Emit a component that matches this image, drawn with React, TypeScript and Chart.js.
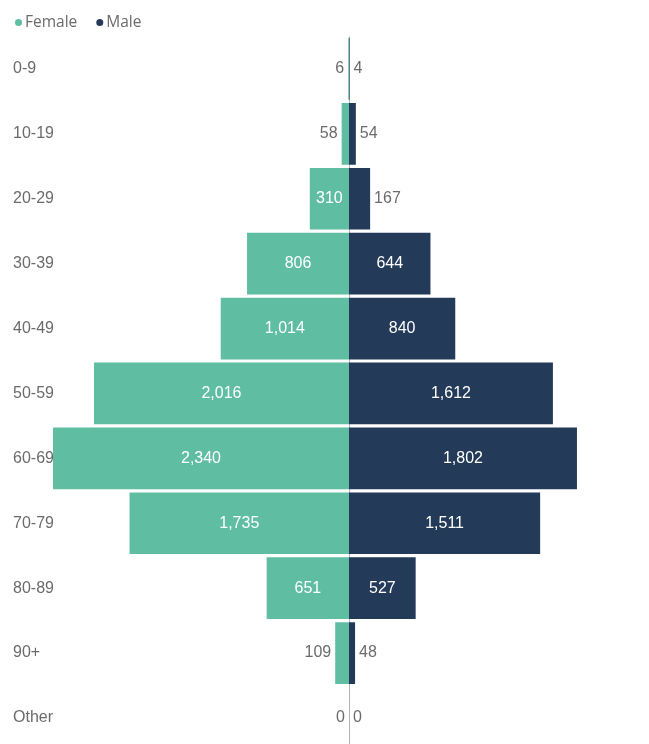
import React, { useEffect, useRef } from "react";
import { Chart, registerables } from "chart.js";

Chart.register(...registerables);

const categories = ["0-9", "10-19", "20-29", "30-39", "40-49", "50-59", "60-69", "70-79", "80-89", "90+", "Other"];
const femaleValues = [6, 58, 310, 806, 1014, 2016, 2340, 1735, 651, 109, 0];
const maleValues = [4, 54, 167, 644, 840, 1612, 1802, 1511, 527, 48, 0];
const seriesNames = ["Female", "Male"];
const titleText = "Patient Count by Age Group and Gender";

const FEMALE_COLOR = "#5fbea2";
const MALE_COLOR = "#243a59";
const TEXT_GRAY = "#6b6b6b";
const LABEL_FONT = "16px 'Liberation Sans', Arial, sans-serif";
const LEGEND_FONT = "15.5px 'Open Sans', 'Noto Sans', sans-serif";

const fmt = (v: number) => Math.abs(v).toLocaleString("en-US");

const zeroLinePlugin = {
  id: "zeroLine",
  beforeDatasetsDraw(chart: any) {
    const { ctx, chartArea, scales } = chart;
    const x = Math.round(scales.x.getPixelForValue(0)) + 0.5;
    ctx.save();
    ctx.strokeStyle = "#b4b4b4";
    ctx.lineWidth = 1;
    ctx.beginPath();
    ctx.moveTo(x, chartArea.top);
    ctx.lineTo(x, chartArea.bottom);
    ctx.stroke();
    ctx.restore();
  },
};

const dataLabelPlugin = {
  id: "dataLabels",
  afterDatasetsDraw(chart: any) {
    const { ctx } = chart;
    ctx.save();
    ctx.font = LABEL_FONT;
    ctx.textBaseline = "middle";
    chart.data.datasets.forEach((ds: any, di: number) => {
      const meta = chart.getDatasetMeta(di);
      meta.data.forEach((el: any, i: number) => {
        const v = ds.data[i];
        const { x, y, base } = el.getProps(["x", "y", "base"], true);
        const text = fmt(v);
        const tw = ctx.measureText(text).width;
        const left = Math.min(x, base);
        const right = Math.max(x, base);
        const w = right - left;
        if (w >= tw + 8) {
          ctx.fillStyle = "#ffffff";
          ctx.textAlign = "center";
          ctx.fillText(text, (left + right) / 2, y);
        } else {
          ctx.fillStyle = TEXT_GRAY;
          if (di === 0) {
            ctx.textAlign = "right";
            ctx.fillText(text, left - 4, y);
          } else {
            ctx.textAlign = "left";
            ctx.fillText(text, right + 4, y);
          }
        }
      });
    });
    ctx.restore();
  },
};

const headerPlugin = {
  id: "header",
  afterDraw(chart: any) {
    const { ctx } = chart;
    ctx.save();
    // title (cut off at the top, as in the reference)
    ctx.font = "18px 'Open Sans', 'Noto Sans', sans-serif";
    ctx.fillStyle = "#555555";
    ctx.textAlign = "left";
    ctx.textBaseline = "alphabetic";
    ctx.fillText(titleText, 13, 2);
    // legend
    ctx.font = LEGEND_FONT;
    ctx.textBaseline = "middle";
    let x = 15;
    const y = 22.5;
    chart.data.datasets.forEach((ds: any) => {
      ctx.fillStyle = ds.backgroundColor;
      ctx.beginPath();
      ctx.arc(x + 3.5, y, 3.5, 0, Math.PI * 2);
      ctx.fill();
      ctx.fillStyle = TEXT_GRAY;
      ctx.fillText(ds.label, x + 10, y);
      x += 10 + ctx.measureText(ds.label).width + 19;
    });
    ctx.restore();
  },
};

export default function App() {
  const ref = useRef<HTMLCanvasElement | null>(null);
  useEffect(() => {
    if (!ref.current) return;
    const maxVal = Math.max(...femaleValues, ...maleValues);
    const chart = new Chart(ref.current, {
      type: "bar",
      data: {
        labels: categories,
        datasets: [
          {
            label: seriesNames[0],
            data: femaleValues.map((v) => -v),
            backgroundColor: FEMALE_COLOR,
            categoryPercentage: 0.95,
            barPercentage: 1,
          },
          {
            label: seriesNames[1],
            data: maleValues,
            backgroundColor: MALE_COLOR,
            categoryPercentage: 0.95,
            barPercentage: 1,
          },
        ],
      },
      options: {
        indexAxis: "y",
        responsive: true,
        maintainAspectRatio: false,
        animation: false,
        layout: { padding: { left: 13, right: 4, top: 36.5, bottom: 8.5 } },
        plugins: {
          legend: { display: false },
          title: { display: false },
          tooltip: { enabled: false },
        },
        scales: {
          x: {
            stacked: true,
            display: false,
            min: -maxVal,
            max: maxVal,
          },
          y: {
            stacked: true,
            grid: { display: false },
            border: { display: false },
            ticks: {
              color: TEXT_GRAY,
              font: { family: "'Liberation Sans', Arial, sans-serif", size: 16 },
              crossAlign: "far",
              padding: 0,
            },
            afterFit(scale: any) {
              scale.width = 40;
            },
          },
        },
      },
      plugins: [zeroLinePlugin, dataLabelPlugin, headerPlugin],
    } as any);
    return () => chart.destroy();
  }, []);
  return (
    <div style={{ margin: "-8px 0 0 -8px", width: 649, height: 760, position: "relative" }}>
      <canvas ref={ref} />
    </div>
  );
}
